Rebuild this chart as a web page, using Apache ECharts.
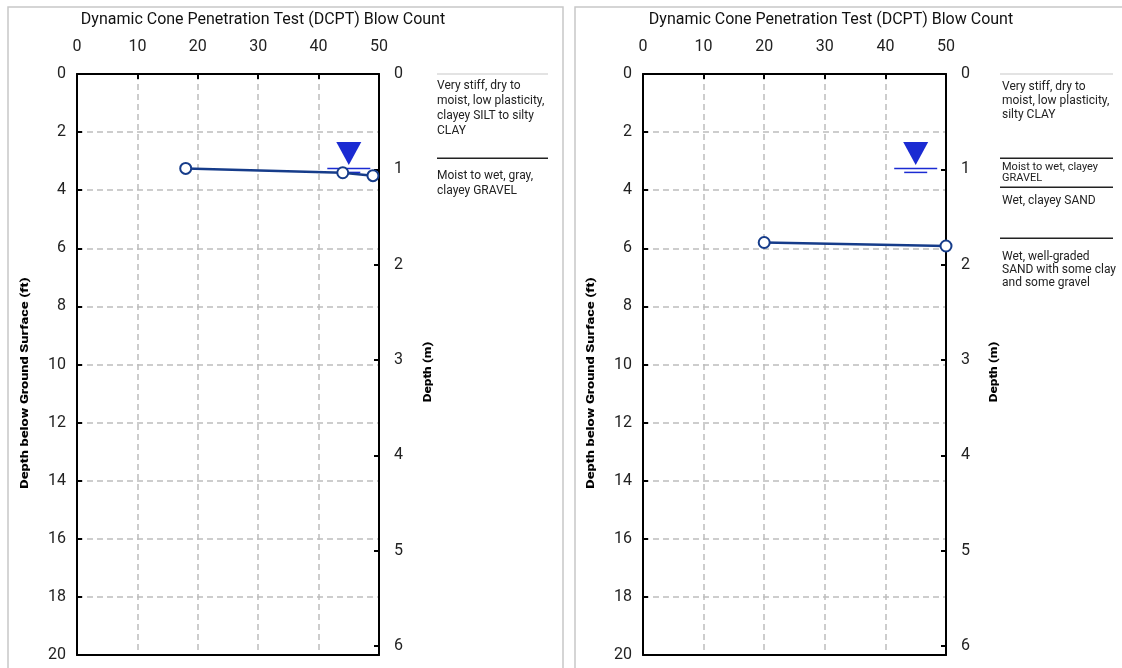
<!DOCTYPE html>
<html>
<head>
<meta charset="utf-8">
<script src="https://cdn.jsdelivr.net/npm/echarts@6/dist/echarts.min.js"></script>
<style>
  html, body { margin: 0; padding: 0; background: #fff; }
  #main { width: 1122px; height: 668px; }
</style>
</head>
<body>
<div id="main"></div>
<script>
// --- data ---
var FT_PER_M = 3.281;
var blowMin = 0, blowMax = 50, blowStep = 10;
var ftMin = 0, ftMax = 20, ftStep = 2;
var mStep = 1;

// panel 1 (left)
var leftBlows = [18, 44, 49];
var leftDepths = [3.25, 3.4, 3.5];
var leftLayerTops = [0, 2.9];
var leftLayerText = [
  'Very stiff, dry to\nmoist, low plasticity,\nclayey SILT to silty\nCLAY',
  'Moist to wet, gray,\nclayey GRAVEL'
];

// panel 2 (right)
var rightBlows = [20, 50];
var rightDepths = [5.8, 5.92];
var rightLayerTops = [0, 2.9, 3.9, 5.65];
var rightLayerText = [
  'Very stiff, dry to\nmoist, low plasticity,\nsilty CLAY',
  'Moist to wet, clayey\nGRAVEL',
  'Wet, clayey SAND',
  'Wet, well-graded\nSAND with some clay\nand some gravel'
];

// groundwater marker (blow-count position, depth ft)
var waterBlow = 45;
var waterDepth = 3.25;

var titleText = 'Dynamic Cone Penetration Test (DCPT) Blow Count';
var ftName = 'Depth below Ground Surface (ft)';
var mName = 'Depth (m)';

var FONT = 'Roboto, "Noto Sans", sans-serif';
var navy = '#163c8a';
var blue = '#1b2bd2';

var panels = [
  { left: 77, width: 302, blows: leftBlows, depths: leftDepths, tops: leftLayerTops, texts: leftLayerText,
    textX: 437, lineX: [437, 548], titleX: 263, ftNameX: 25, mNameX: 428,
    pads: [4, 10], lh: [15, 15], fs: [12, 12] },
  { left: 643, width: 303, blows: rightBlows, depths: rightDepths, tops: rightLayerTops, texts: rightLayerText,
    textX: 1002, lineX: [1000, 1113], titleX: 831, ftNameX: 591, mNameX: 994,
    pads: [6, 4, 7, 12], lh: [14, 11, 14, 13], fs: [12, 11, 12, 12] }
];

var myChart = echarts.init(document.getElementById('main'));

var grids = [], xAxes = [], yAxes = [], series = [];
var axisLineStyle = { show: true, onZero: false, lineStyle: { color: '#000', width: 2 } };
var tickStyle = { show: true, inside: true, length: 5, lineStyle: { color: '#000', width: 2 } };
var splitStyle = { show: true, lineStyle: { color: '#bdbdbd', width: 1.5, type: [6, 4] } };

panels.forEach(function (p, i) {
  grids.push({ left: p.left, top: 74, width: p.width, height: 581, containLabel: false });
  xAxes.push({
    gridIndex: i, type: 'value', position: 'top', min: blowMin, max: blowMax, interval: blowStep,
    axisLine: axisLineStyle, axisTick: tickStyle, splitLine: splitStyle,
    axisLabel: { fontSize: 16, color: '#222', margin: 19, fontFamily: FONT }
  });
  xAxes.push({
    gridIndex: i, type: 'value', position: 'bottom', min: blowMin, max: blowMax,
    axisLine: axisLineStyle, axisTick: { show: false }, axisLabel: { show: false }, splitLine: { show: false }
  });
  yAxes.push({
    gridIndex: i, type: 'value', position: 'left', inverse: true, min: ftMin, max: ftMax, interval: ftStep,
    axisLine: axisLineStyle, axisTick: tickStyle, splitLine: splitStyle,
    axisLabel: { fontSize: 16, color: '#222', margin: 11, fontFamily: FONT }
  });
  yAxes.push({
    gridIndex: i, type: 'value', position: 'right', inverse: true, min: 0, max: ftMax / FT_PER_M, interval: mStep,
    axisLine: axisLineStyle, axisTick: tickStyle, splitLine: { show: false },
    axisLabel: {
      fontSize: 16, color: '#222', margin: 15, fontFamily: FONT,
      formatter: function (v) { return Math.abs(v - Math.round(v)) < 1e-6 ? String(Math.round(v)) : ''; }
    }
  });

  series.push({
    type: 'line', xAxisIndex: 2 * i, yAxisIndex: 2 * i,
    data: p.blows.map(function (b, k) { return [b, p.depths[k]]; }),
    symbol: 'emptyCircle', symbolSize: 11,
    lineStyle: { color: navy, width: 2.5 },
    itemStyle: { color: navy, borderColor: navy, borderWidth: 2 },
    z: 5
  });
  series.push({
    type: 'scatter', xAxisIndex: 2 * i, yAxisIndex: 2 * i, silent: true, z: 4,
    itemStyle: { color: blue, opacity: 1 },
    data: [
      { value: [waterBlow, waterDepth], symbol: 'triangle', symbolRotate: 180, symbolSize: [25, 23], symbolOffset: [0, -15] },
      { value: [waterBlow, waterDepth], symbol: 'rect', symbolSize: [43, 1.5], symbolOffset: [0, 0] },
      { value: [waterBlow, waterDepth], symbol: 'rect', symbolSize: [23, 1.5], symbolOffset: [0, 4] }
    ]
  });
});

var option = {
  animation: false,
  textStyle: { fontFamily: FONT },
  grid: grids,
  xAxis: xAxes,
  yAxis: yAxes,
  series: series
};
myChart.setOption(option);

// annotations: titles, axis names, panel frames, soil layer notes
var graphics = [];
var frame = { stroke: '#c8c8c8', lineWidth: 1.5 };
graphics.push({ type: 'polyline', shape: { points: [[8, 668], [8, 7], [563, 7], [563, 668]] }, style: frame, silent: true });
graphics.push({ type: 'polyline', shape: { points: [[575, 668], [575, 7], [1122, 7]] }, style: frame, silent: true });

function vName(text, x, y, scale) {
  return {
    type: 'text', x: x, y: y, rotation: Math.PI / 2, scaleX: scale, scaleY: 1, silent: true,
    style: {
      text: text, fill: '#000', fontSize: 10, fontWeight: 900, fontFamily: 'Roboto, sans-serif',
      align: 'center', verticalAlign: 'middle'
    }
  };
}

panels.forEach(function (p, i) {
  graphics.push({
    type: 'text', x: p.titleX, y: 20, silent: true,
    style: { text: titleText, fill: '#111', fontSize: 16, fontFamily: FONT, align: 'center', verticalAlign: 'middle' }
  });
  graphics.push(vName(ftName, p.ftNameX, 383, 1.45));
  graphics.push(vName(mName, p.mNameX, 372, 1.35));
  p.tops.forEach(function (d, k) {
    var y = myChart.convertToPixel({ yAxisIndex: 2 * i }, d);
    graphics.push({
      type: 'line', shape: { x1: p.lineX[0], y1: y, x2: p.lineX[1], y2: y }, silent: true,
      style: { stroke: k === 0 ? '#c8c8c8' : '#222', lineWidth: k === 0 ? 1.2 : 1.5 }
    });
    graphics.push({
      type: 'text', x: p.textX, y: y + p.pads[k], silent: true,
      style: {
        text: p.texts[k], fill: '#222', fontSize: p.fs[k], lineHeight: p.lh[k], fontFamily: FONT,
        align: 'left', verticalAlign: 'top'
      }
    });
  });
});
myChart.setOption({ graphic: graphics });
</script>
</body>
</html>
